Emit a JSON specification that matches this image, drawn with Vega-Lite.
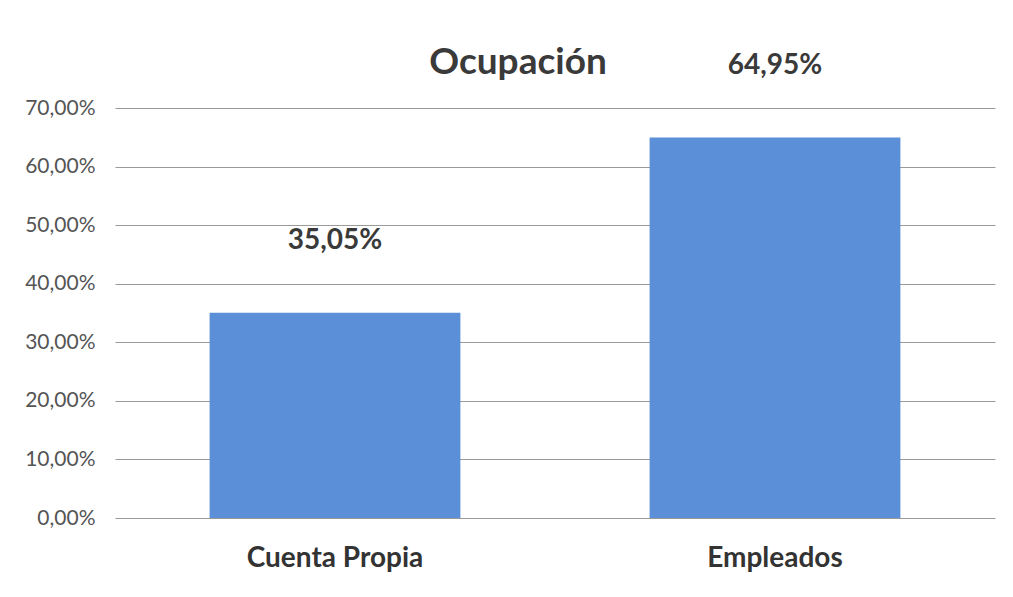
{
  "$schema": "https://vega.github.io/schema/vega-lite/v6.json",
  "width": 880,
  "height": 410,
  "autosize": "none",
  "padding": {"left": 115, "top": 108, "right": 18, "bottom": 79},
  "background": "white",
  "config": {
    "locale": {"number": {"decimal": ",", "thousands": ".", "grouping": [3], "currency": ["", " €"]}},
    "font": "Lato",
    "view": {"stroke": null}
  },
  "title": {
    "text": "Ocupación",
    "anchor": "middle",
    "dx": -37,
    "dy": 60,
    "offset": 30,
    "fontSize": 37,
    "fontWeight": "bold",
    "color": "#3a3a3a",
    "font": "Lato"
  },
  "data": {
    "values": [
      {"categoria": "Cuenta Propia", "valor": 0.3505},
      {"categoria": "Empleados", "valor": 0.6495}
    ]
  },
  "encoding": {
    "x": {
      "field": "categoria",
      "type": "nominal",
      "sort": null,
      "scale": {"paddingInner": 0.43, "paddingOuter": 0.215},
      "axis": {
        "title": null,
        "labelAngle": 0,
        "labelFontSize": 28,
        "labelFontWeight": "bold",
        "labelColor": "#333333",
        "labelPadding": 26,
        "ticks": false,
        "domain": false
      }
    },
    "y": {
      "field": "valor",
      "type": "quantitative",
      "scale": {"domain": [0, 0.7]},
      "axis": {
        "title": null,
        "format": ".2%",
        "values": [0, 0.1, 0.2, 0.3, 0.4, 0.5, 0.6, 0.7],
        "labelFontSize": 21,
        "labelColor": "#555555",
        "labelPadding": 20,
        "ticks": false,
        "domain": false,
        "gridColor": "#9a9a9a",
        "gridWidth": 1
      }
    }
  },
  "layer": [
    {"mark": {"type": "bar", "color": "#5b8fd8"}},
    {
      "mark": {"type": "text", "dy": -72, "fontSize": 28, "fontWeight": "bold", "color": "#3a3a3a", "baseline": "middle"},
      "encoding": {"text": {"field": "valor", "type": "quantitative", "format": ".2%"}}
    }
  ]
}
